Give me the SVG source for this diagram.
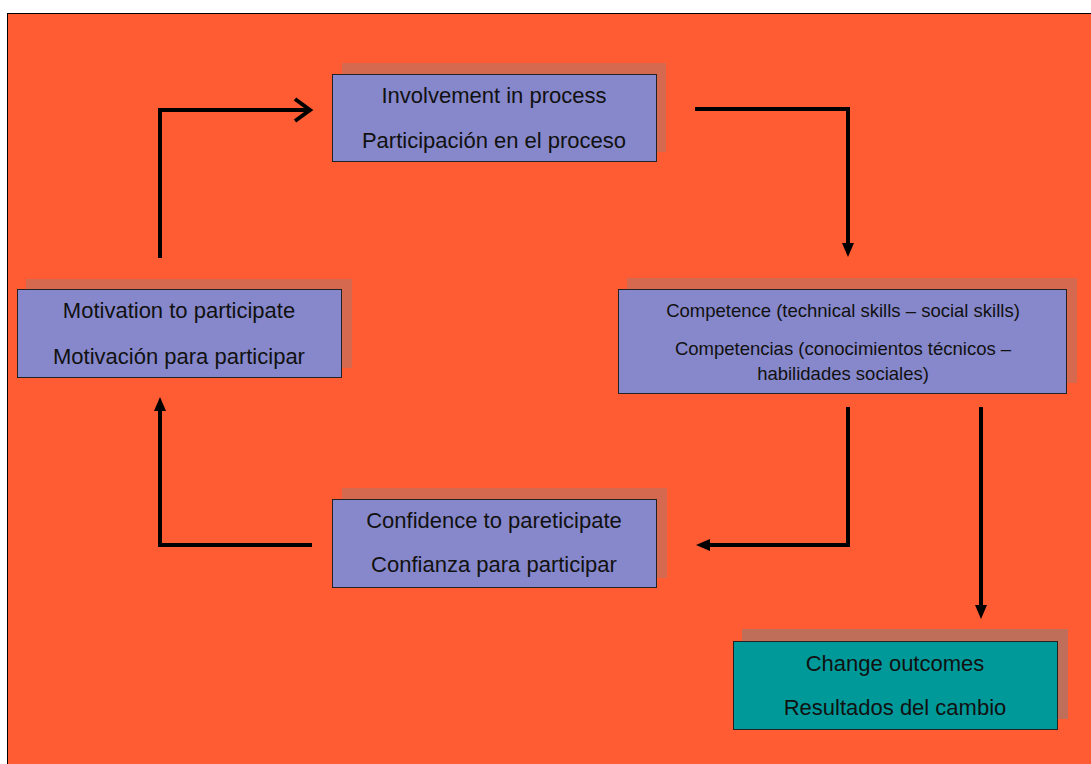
<svg xmlns="http://www.w3.org/2000/svg" width="1091" height="764" viewBox="0 0 1091 764">
  <style>
    .shadow { fill: #D4694F; }
    .shadow-dark { fill: #BF6E5A; }
    .box { fill: #8788CB; stroke: #222; stroke-width: 1; }
    .box-teal { fill: #009999; stroke: #222; stroke-width: 1; }
    .t20 { font-family: "Liberation Sans", Arial, sans-serif; font-size: 22px; fill: #111; text-anchor: middle; }
    .t16 { font-family: "Liberation Sans", Arial, sans-serif; font-size: 18.5px; fill: #111; text-anchor: middle; }
    .link { fill: none; stroke: #000; stroke-width: 4; stroke-linejoin: miter; }
  </style>
  <defs>
    <marker id="tri" markerUnits="userSpaceOnUse" viewBox="0 0 14 12" markerWidth="14" markerHeight="12" refX="2" refY="6" orient="auto">
      <path d="M0,0 L14,6 L0,12 Z" fill="#000"/>
    </marker>
  </defs>

  <!-- page background -->
  <rect x="0" y="0" width="1091" height="764" fill="#FFFFFF"/>
  <rect x="7.5" y="13.5" width="1090" height="760" fill="#FF5C33" stroke="#000" stroke-width="1"/>

  <!-- connectors -->
  <g id="connectors">
    <path class="link" d="M160,258 V110 H309"/>
    <polyline class="link" points="295,99 310,110 295,121"/>
    <path class="link" d="M695,109 H848 V245" marker-end="url(#tri)"/>
    <path class="link" d="M848,407 V545 H708" marker-end="url(#tri)"/>
    <path class="link" d="M981,407 V607" marker-end="url(#tri)"/>
    <path class="link" d="M312,545 H160 V409" marker-end="url(#tri)"/>
  </g>

  <g id="involvement">
    <rect class="shadow" x="342" y="63" width="324" height="89"/>
    <rect class="box" x="332.5" y="74.5" width="324" height="87"/>
    <text class="t20" x="494" y="103">Involvement in process</text>
    <text class="t20" x="494" y="148">Participación en el proceso</text>
  </g>

  <g id="competence">
    <rect class="shadow" x="627" y="278" width="450" height="105"/>
    <rect class="box" x="618.5" y="289.5" width="448" height="104"/>
    <text class="t16" x="843" y="317">Competence (technical skills – social skills)</text>
    <text class="t16" x="843" y="355">Competencias (conocimientos técnicos –</text>
    <text class="t16" x="843" y="380">habilidades sociales)</text>
  </g>

  <g id="outcomes">
    <rect class="shadow-dark" x="742" y="629" width="326" height="90"/>
    <rect class="box-teal" x="733.5" y="641.5" width="324" height="88"/>
    <text class="t20" x="895" y="671">Change outcomes</text>
    <text class="t20" x="895" y="715">Resultados del cambio</text>
  </g>

  <g id="motivation">
    <rect class="shadow" x="26" y="279" width="326" height="89"/>
    <rect class="box" x="17.5" y="289.5" width="324" height="88"/>
    <text class="t20" x="179" y="318">Motivation to participate</text>
    <text class="t20" x="179" y="364">Motivación para participar</text>
  </g>

  <g id="confidence">
    <rect class="shadow" x="342" y="488" width="325" height="90"/>
    <rect class="box" x="332.5" y="499.5" width="324" height="88"/>
    <text class="t20" x="494" y="528">Confidence to pareticipate</text>
    <text class="t20" x="494" y="572">Confianza para participar</text>
  </g>
</svg>
